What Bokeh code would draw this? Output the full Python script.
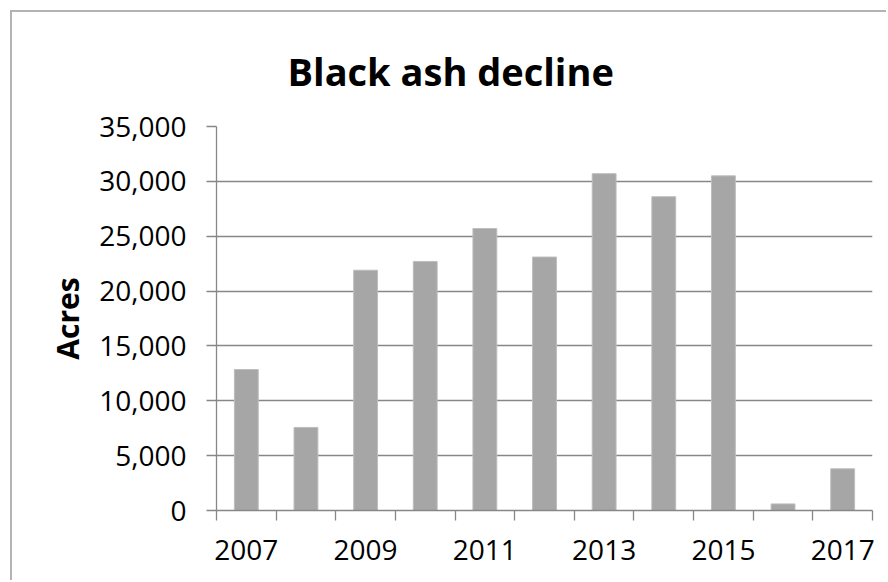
from bokeh.plotting import figure
from bokeh.models import (FixedTicker, NumeralTickFormatter, Range1d, Title,
                          ColumnDataSource)
from bokeh.embed import file_html
from bokeh.resources import INLINE

# ---- data ----
years = [2007, 2008, 2009, 2010, 2011, 2012, 2013, 2014, 2015, 2016, 2017]
acres = [12850, 7570, 21900, 22700, 25700, 23100, 30700, 28600, 30500, 600, 3800]
label_years = [2007, 2009, 2011, 2013, 2015, 2017]
y_ticks = [0, 5000, 10000, 15000, 20000, 25000, 30000, 35000]
title_text = "Black ash decline"
y_label = "Acres"

FONT = "Open Sans"
GRID = "#878787"
BAR = "#a6a6a6"

p = figure(width=876, height=570, output_backend="svg", toolbar_location=None,
           x_range=Range1d(years[0] - 0.5, years[-1] + 0.5),
           y_range=Range1d(0, 35000),
           min_border_left=204, min_border_right=16,
           min_border_top=114, min_border_bottom=72,
           styles={"margin-left": "12px", "margin-top": "12px",
                   "box-shadow": "-2px -2px 0px 0px #b3b3b3"})

src = ColumnDataSource(dict(x=years, top=acres))
p.vbar(x="x", top="top", width=0.4, bottom=0, source=src,
       fill_color=BAR, line_color="#bdbdbd", line_width=1)

p.title = Title(text=title_text, align="left", offset=71, standoff=60,
                text_font=FONT, text_font_size="38px", text_font_style="bold",
                text_color="black")

p.outline_line_color = None
p.background_fill_color = "white"
p.border_fill_color = "white"

# x axis
xa = p.xaxis[0]
xa.ticker = FixedTicker(ticks=label_years,
                        minor_ticks=[y - 0.5 for y in years] + [years[-1] + 0.5])
xa.major_tick_out = 0
xa.major_tick_in = 0
xa.minor_tick_out = 10
xa.minor_tick_in = 0
xa.minor_tick_line_color = GRID
xa.minor_tick_line_width = 1.3
xa.axis_line_color = GRID
xa.axis_line_width = 1.3
xa.major_label_text_font = FONT
xa.major_label_text_font_size = "28px"
xa.major_label_text_color = "black"
xa.major_label_standoff = 19
xa.major_label_overrides = {y: str(y) for y in label_years}

# y axis
ya = p.yaxis[0]
ya.ticker = FixedTicker(ticks=y_ticks, minor_ticks=[])
ya.formatter = NumeralTickFormatter(format="0,0")
ya.major_tick_out = 10
ya.major_tick_in = 0
ya.major_tick_line_color = GRID
ya.major_tick_line_width = 1.3
ya.axis_line_color = GRID
ya.axis_line_width = 1.3
ya.major_label_text_font = FONT
ya.major_label_text_font_size = "28px"
ya.major_label_text_color = "black"
ya.major_label_standoff = 20
ya.axis_label = y_label
ya.axis_label_text_font = FONT
ya.axis_label_text_font_size = "30px"
ya.axis_label_text_font_style = "bold"
ya.axis_label_text_color = "black"
ya.axis_label_standoff = 8

p.xgrid.grid_line_color = None
p.ygrid.grid_line_color = GRID
p.ygrid.grid_line_width = 1.3

open("out.html", "w").write(file_html(p, INLINE))
